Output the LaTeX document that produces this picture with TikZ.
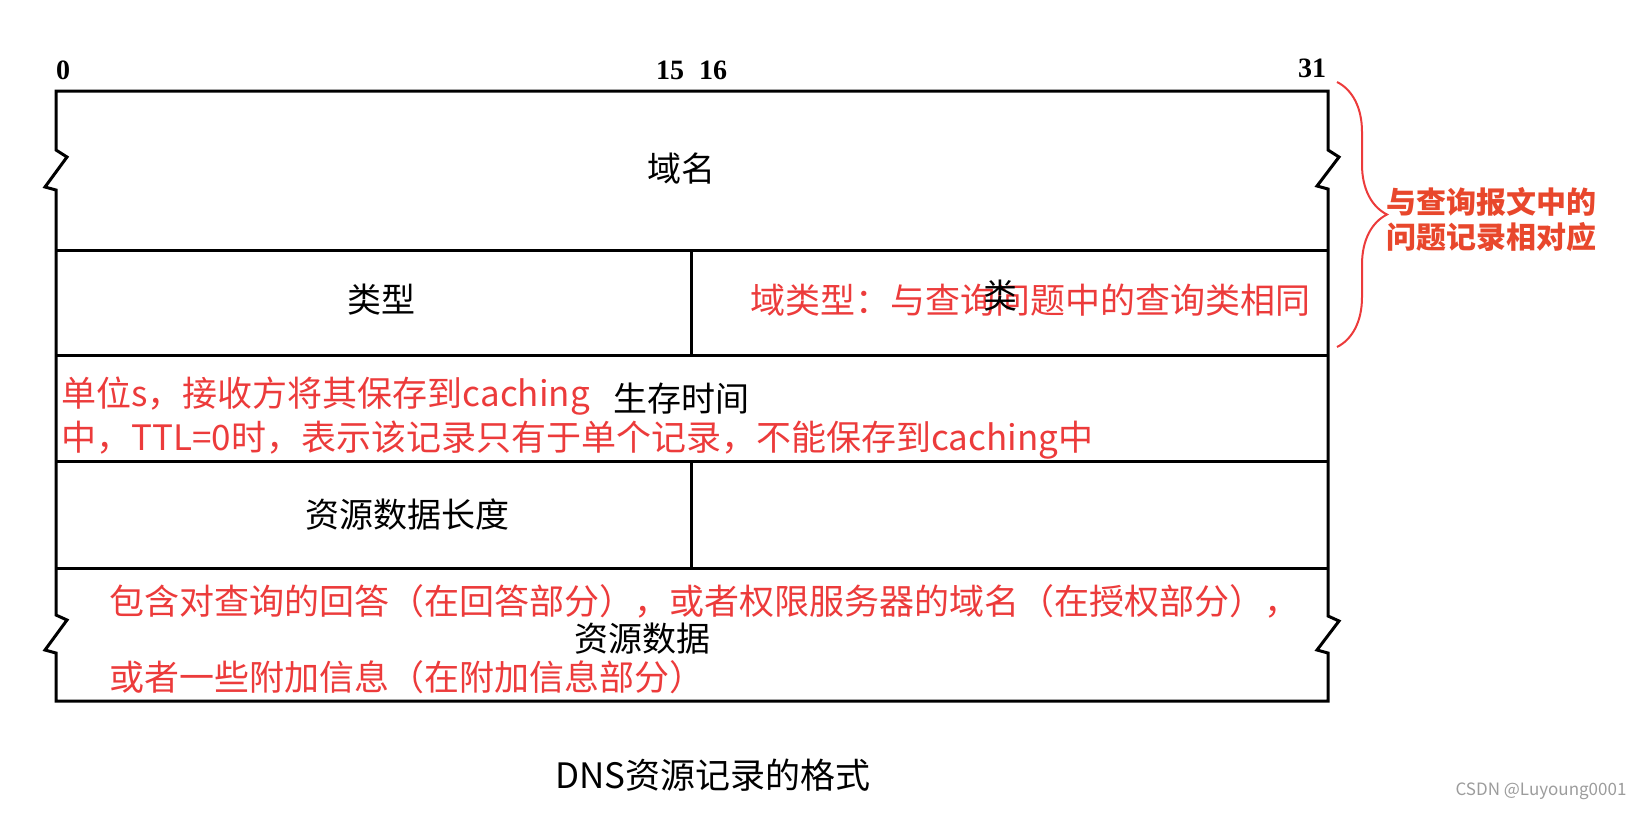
\documentclass[tikz,border=0pt]{standalone}
\usepackage{fontspec}
\newfontfamily\cjk{Noto Sans CJK SC}
\newfontfamily\bitfont{Liberation Serif}
\usetikzlibrary{decorations.pathreplacing}
\definecolor{cred}{HTML}{EC3B3B}
\definecolor{corange}{HTML}{E8472C}
\definecolor{cgrey}{HTML}{9C9C9C}
\tikzset{
  every picture/.style={line width=1.5pt},
  field/.style={font=\cjk\fontsize{17}{20}\selectfont, inner sep=0pt},
  bit/.style={font=\bitfont\bfseries\fontsize{14}{16}\selectfont, inner sep=0pt},
  note/.style={font=\cjk\fontsize{17.5}{22}\selectfont, text=cred, anchor=west, inner sep=0pt, align=left},
  side/.style={font=\cjk\bfseries\fontsize{15}{17.5}\selectfont, text=corange, anchor=west, inner sep=0pt, align=left},
  redbrace/.style={draw=cred, line width=1pt, decorate, decoration={brace, amplitude=25pt}},
}

\begin{document}
\begin{tikzpicture}[x=0.5pt, y=-0.5pt]
  \useasboundingbox (0,0) rectangle (1638,816);
  % outer frame, with the break marks on both sides
  \draw (56,91) -- (1328,91)
    -- (1328,150) -- ++(11,7) -- ++(-22,29) -- ++(11,3)
    -- (1328,616) -- ++(11,5) -- ++(-22,29) -- ++(11,3)
    -- (1328,701) -- (56,701)
    -- (56,653) -- ++(-11,-3) -- ++(22,-30) -- ++(-11,-5)
    -- (56,190) -- ++(-11,-3) -- ++(22,-30) -- ++(-11,-7) -- cycle;
  \foreach \y in {250,355,461,568}
    \draw (56,\y) -- (1328,\y);
  \draw (691,250) -- (691,355);
  \draw (691,461) -- (691,568);
  % bit numbers
  \node[bit] (b0) at (63,70) {0};
  \node[bit] (b15) at (670,70) {15};
  \node[bit] (b16) at (713,70) {16};
  \node[bit] (b31) at (1312,68) {31};
  % red notes
  \node[note] (classnote) at (749,300) {域类型：与查询问题中的查询类相同};
  \node[note] (ttlnote) at (60,418) {单位s，接收方将其保存到caching\\中，TTL=0时，表示该记录只有于单个记录，不能保存到caching中};
  \node[note] (rdnote1) at (108,601) {包含对查询的回答（在回答部分），或者权限服务器的域名（在授权部分），};
  \node[note] (rdnote2) at (108,677) {或者一些附加信息（在附加信息部分）};
  % fields
  \node[field] (name) at (681,169) {域名};
  \node[field] (type) at (381,300) {类型};
  \node[field] (class) at (1000,296) {类};
  \node[field] (ttl) at (681,399) {生存时间};
  \node[field] (rdlen) at (407,515) {资源数据长度};
  \node[field] (rdata) at (642,639) {资源数据};
  % brace on the right
  \draw[redbrace] (1337,82) -- (1337,347);
  \node[side] (bracenote) at (1385,220) {与查询报文中的\\问题记录相对应};
  \node[font=\cjk\fontsize{17.5}{20}\selectfont, inner sep=0pt] (caption) at (713,775) {DNS资源记录的格式};
  \node[font=\cjk\fontsize{8.5}{10}\selectfont, text=cgrey, inner sep=0pt] (mark) at (1541,791) {CSDN @Luyoung0001};
\end{tikzpicture}
\end{document}
